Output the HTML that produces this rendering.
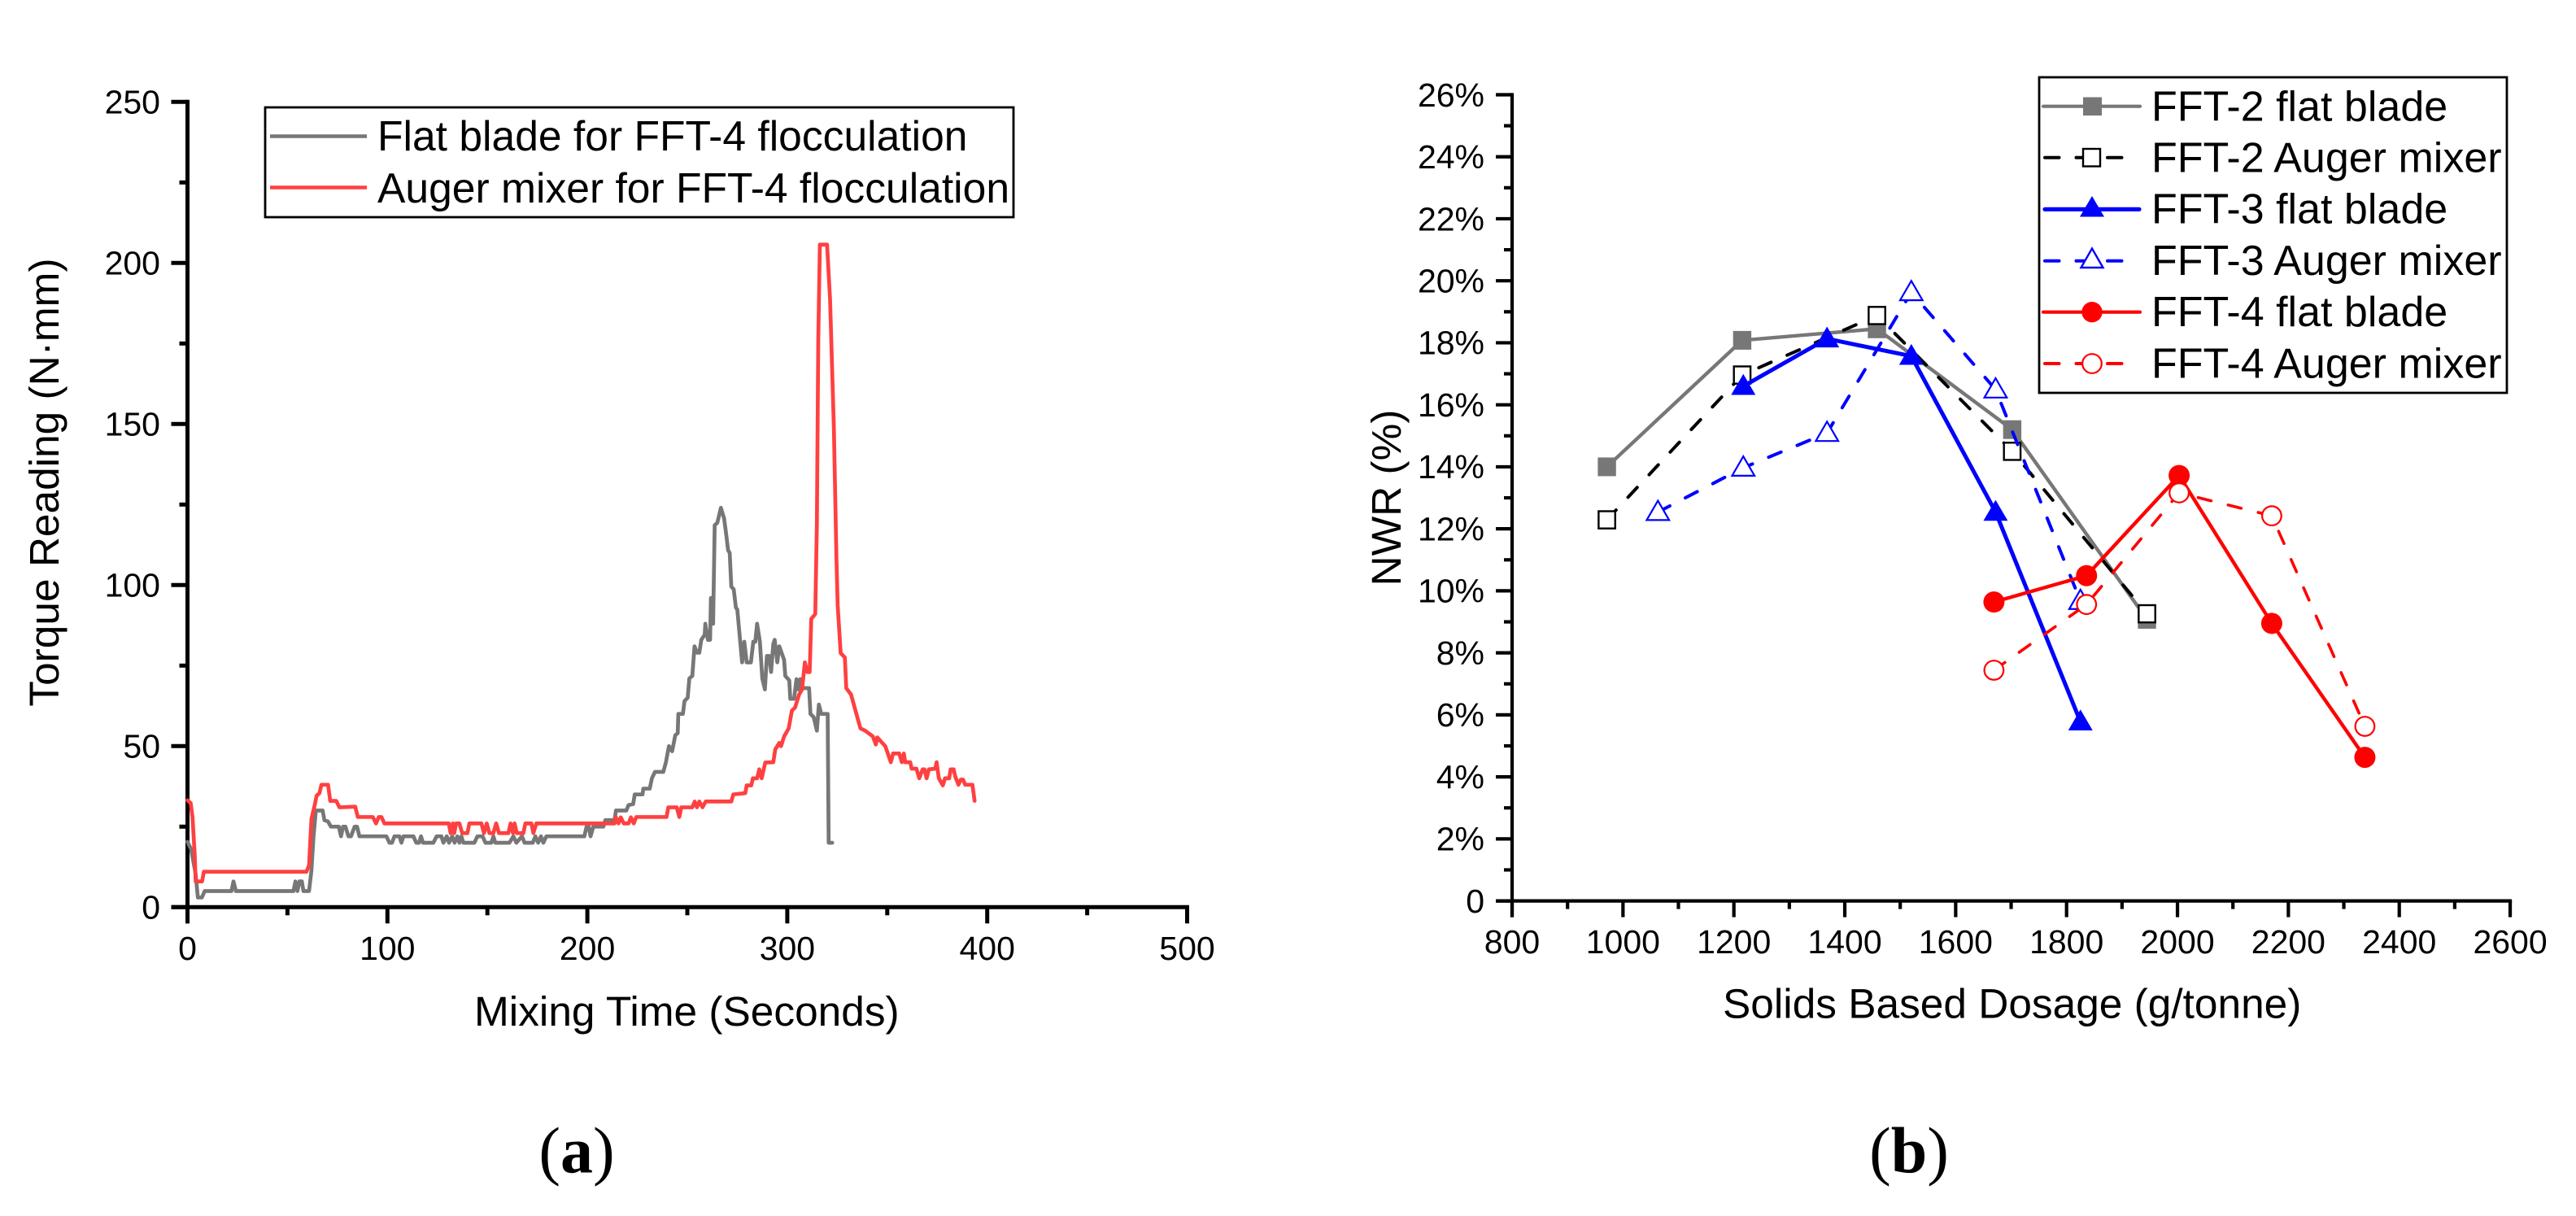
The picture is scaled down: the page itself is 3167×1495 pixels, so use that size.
<!DOCTYPE html>
<html lang="en">
<head>
<meta charset="utf-8">
<title>Torque reading and NWR charts</title>
<style>
html,body{margin:0;padding:0;background:#fff;}
svg{display:block;}
text{font-family:"Liberation Sans",Arial,sans-serif;fill:#000;}
.tick{font-size:41px;}
.title{font-size:51.4px;}
.leg{font-size:51.6px;}
.legb{font-size:52px;}
.panel{font-family:"Liberation Serif","Times New Roman",serif;font-size:80px;}
</style>
</head>
<body>
<svg id="figure" xmlns="http://www.w3.org/2000/svg" width="3167" height="1495" viewBox="0 0 3167 1495">
  <rect x="0" y="0" width="3167" height="1495" fill="#fff"/>
  <g id="chartA"></g>
  <g id="chartB"></g>

  <text class="title" x="583" y="1261">Mixing Time (Seconds)</text>
  <text class="title" transform="translate(72,593) rotate(-90)" text-anchor="middle">Torque Reading (N·mm)</text>
  <text class="title" x="2118" y="1251.5">Solids Based Dosage (g/tonne)</text>
  <text class="title" transform="translate(1722,612) rotate(-90)" text-anchor="middle">NWR (%)</text>

  <text class="panel" x="709" y="1441.5" text-anchor="middle">(<tspan font-weight="bold">a</tspan>)</text>
  <text class="panel" x="2347" y="1441.5" text-anchor="middle">(<tspan font-weight="bold">b</tspan>)</text>

  <g>
    <rect x="326" y="132" width="920" height="135" fill="#fff" stroke="#000" stroke-width="2.8"/>
    <line x1="332" x2="451" y1="167.5" y2="167.5" stroke="#777" stroke-width="4.4"/>
    <text class="leg" x="464" y="185">Flat blade for FFT-4 flocculation</text>
    <line x1="332" x2="451" y1="230.5" y2="230.5" stroke="#ff4040" stroke-width="4.4"/>
    <text class="leg" x="464" y="249">Auger mixer for FFT-4 flocculation</text>
  </g>

  <g id="legendB">
    <rect x="2507" y="95" width="575" height="388" fill="#fff" stroke="#000" stroke-width="2.8"/>
    <g>
      <line x1="2512" x2="2631" y1="130.7" y2="130.7" stroke="#777" stroke-width="4.2" stroke-linecap="round"/>
      <rect x="2561" y="119.5" width="23" height="22.5" fill="#777"/>
      <text class="legb" x="2645" y="148.5">FFT-2 flat blade</text>
    </g>
    <g>
      <line x1="2514" x2="2610" y1="193.7" y2="193.7" stroke="#000" stroke-width="4" stroke-linecap="round" stroke-dasharray="17.5 21"/>
      <rect x="2561" y="183" width="21" height="21.5" fill="#fff" stroke="#000" stroke-width="2.4"/>
      <text class="legb" x="2645" y="211.5">FFT-2 Auger mixer</text>
    </g>
    <g>
      <line x1="2514" x2="2630" y1="257.3" y2="257.3" stroke="#0000ff" stroke-width="5.2" stroke-linecap="round"/>
      <path d="M2572 241 L2587 266.5 L2557 266.5 Z" fill="#0000ff"/>
      <text class="legb" x="2645" y="274.7">FFT-3 flat blade</text>
    </g>
    <g>
      <line x1="2514" x2="2610" y1="320.7" y2="320.7" stroke="#0000ff" stroke-width="4" stroke-linecap="round" stroke-dasharray="17.5 21"/>
      <path d="M2572 305.5 L2585.5 329 L2558.5 329 Z" fill="#fff" stroke="#0000ff" stroke-width="2.4"/>
      <text class="legb" x="2645" y="338">FFT-3 Auger mixer</text>
    </g>
    <g>
      <line x1="2512" x2="2631" y1="383.7" y2="383.7" stroke="#ff0000" stroke-width="4.2" stroke-linecap="round"/>
      <circle cx="2572" cy="383.7" r="12.7" fill="#ff0000"/>
      <text class="legb" x="2645" y="401">FFT-4 flat blade</text>
    </g>
    <g>
      <line x1="2514" x2="2610" y1="447" y2="447" stroke="#ff0000" stroke-width="4" stroke-linecap="round" stroke-dasharray="17.5 21"/>
      <circle cx="2572" cy="447" r="11.8" fill="#fff" stroke="#ff0000" stroke-width="2.2"/>
      <text class="legb" x="2645" y="464.3">FFT-4 Auger mixer</text>
    </g>
  </g>
</svg>

<script>
// ---------- Chart (a): torque traces ----------
const timeTickLabels = ['0', '100', '200', '300', '400', '500'];
const timeMajorTicks = [0, 100, 200, 300, 400, 500];
const timeMinorTicks = [50, 150, 250, 350, 450];
const torqueTickLabels = ['0', '50', '100', '150', '200', '250'];
const torqueMajorTicks = [0, 50, 100, 150, 200, 250];
const torqueMinorTicks = [25, 75, 125, 175, 225];

const flatBladeTime = [0,1.8,4,5.2,7.2,8.6,22,23,24.2,53,54,55,56,57.2,58,60.8,62,63,64.2,67.6,68.5,70.3,71.7,75.7,76.8,77.8,79,80.5,81.8,83.6,84.8,86,99.5,101,102.3,103.5,106,107,108,113,114.4,115.8,116.8,117.8,123,124.6,127,128,129.7,130.8,132.4,133.6,135,136,137,138,143.5,145,147.6,149,152,153,154,161,163,164.5,167.3,168.6,172.7,174,175.4,176.8,178,179.5,198.5,199.6,200.7,201.6,203,208,209,213.6,214.3,219.5,220.6,222.9,223.7,227.6,228,231.2,232.3,233.8,238,239.3,240.8,242.4,244,245.2,245.5,247.8,248.6,250.2,251,252.5,253.6,254.8,256,257,258.7,259,260.3,261.4,261.8,262.9,263.7,265,266.8,268.4,269.6,270.4,271.2,272,273.2,274.3,275,277.4,278.5,279.7,281.8,283,284,284.9,286.3,287.5,288.8,289.8,291,291.9,293,293.7,295,296,298.4,299,301,301.5,303.4,304.6,305.4,306.5,307.4,310.9,311.6,313.2,314.8,315.8,317,320.2,320.7,322.5];
const flatBladeTorque = [20.3,18,10.6,3,3,5,5,8,5,5,8,5,8,8,5,5,11.4,21.5,30,30,27,26.6,25,25,22,25,25,22,22,25,25,22,22,20,20,22,22,20,22,22,20,20,22,20,20,22,22,20,22,20,22,20,22,20,22,20,20,22,22,20,20,22,20,20,22,20,22,20,20,22,20,22,20,22,22,25,25,22,25,25,27,27,30,30,31.7,32,35,35,36.8,36.8,40,42,42,45,50,48.4,53.4,54,60,60,64,65,71,71.8,81,79,79,83,84.6,88,83,83,96,88,118.6,119.3,124,120.7,115,110.8,110,99.5,98.7,93,92.4,76,82.4,76,76,82.4,82.4,88,82.4,71,67.6,78,78,73,81.7,83,76,81,76.8,71.8,70.4,64.7,64.7,70.8,67.6,70.8,68,68,60,59,54.8,62.9,60,60,20,20];
const augerMixerTime = [0,1.6,2.5,3.6,4.1,7.3,8.2,59.5,60.8,62,63.6,64.6,66,67,70.3,71.4,74.4,76,83.9,85.2,92.7,94.3,95.7,97,98.5,130.7,131.6,132.7,133.4,134.4,136,137.4,140,141,147,148.3,149.7,151,153,154.4,155.8,160.5,161.6,162.8,163.6,164.7,168,169,172,173,174.5,213.6,214.3,215.6,216.7,218.2,220.6,221.8,223.2,224.5,239.6,240.5,244.7,246,247,252.5,253.7,254.8,256,257.6,259.2,272,273,279,279.7,282,282.8,284.9,286,287.2,289,293,294,296,296.9,298.4,300.7,302.3,303.9,305.9,307.4,308.8,310,311.2,312,314,314.8,315.5,316.3,319.9,321.4,323.3,324.6,325.2,326.7,328.8,329.5,331.9,333.4,336.6,338.9,342.8,344.3,345,349,351.8,352.9,356,357.3,358.3,359,361.5,362.2,364.6,366,367.7,368.6,369.7,370.8,374,374.7,375.8,377.8,378.9,381,381.7,383.2,384,385.6,386.8,387.9,389,392.6,393.7];
const augerMixerTorque = [33.2,32.3,28,16.5,8,8,11,11,13,27.4,31.6,34.6,35.4,38,38,33,33,31,31.2,28,28,26,28,28,26,26,23,26,23,26,26,23,23,26,26,23,26,23,23,26,23,23,26,23,26,23,23,26,26,23,26,26,27.9,26,27.9,26,26,27.9,26,28,28,31,31,28,31,31,32.8,31,32.8,31,32.8,32.8,35,35.4,37.8,37.8,40,40,42.8,40,44.9,45,49,51,50,53,55.5,61,62,66,67.6,76,73,73,89.5,91,119,176,205.7,205.7,188.7,149,108,93.8,78.9,77.5,68,66,62.6,55.5,54.8,53,50.5,52.7,50,45,47.7,47.7,45,47.7,45,45,43,43,40,42.8,42.8,40,42.8,43,45,40,37.8,40,40,42.8,42.8,40.6,38,39.6,39.6,38,38,33];

// ---------- Chart (b): NWR vs dosage ----------
const dosageTickLabels = ['800', '1000', '1200', '1400', '1600', '1800', '2000', '2200', '2400', '2600'];
const dosageMajorTicks = [800, 1000, 1200, 1400, 1600, 1800, 2000, 2200, 2400, 2600];
const dosageMinorTicks = [900, 1100, 1300, 1500, 1700, 1900, 2100, 2300, 2500];
const nwrTickLabels = ['0', '2%', '4%', '6%', '8%', '10%', '12%', '14%', '16%', '18%', '20%', '22%', '24%', '26%'];
const nwrMajorTicks = [0, 2, 4, 6, 8, 10, 12, 14, 16, 18, 20, 22, 24, 26];
const nwrMinorTicks = [1, 3, 5, 7, 9, 11, 13, 15, 17, 19, 21, 23, 25];

const fft2FlatDosage = [971, 1215, 1458, 1702, 1945];
const fft2FlatNwr = [14.0, 18.08, 18.45, 15.2, 9.08];
const fft2AugerDosage = [971, 1215, 1458, 1702, 1945];
const fft2AugerNwr = [12.29, 16.96, 18.88, 14.5, 9.26];
const fft3FlatDosage = [1217, 1368, 1520, 1672, 1825];
const fft3FlatNwr = [16.6, 18.13, 17.57, 12.54, 5.78];
const fft3AugerDosage = [1063, 1217, 1368, 1520, 1672, 1825];
const fft3AugerNwr = [12.54, 13.97, 15.09, 19.63, 16.49, 9.67];
const fft4FlatDosage = [1669, 1836, 2003, 2170, 2338];
const fft4FlatNwr = [9.64, 10.49, 13.72, 8.95, 4.63];
const fft4AugerDosage = [1669, 1836, 2003, 2170, 2338];
const fft4AugerNwr = [7.44, 9.56, 13.16, 12.42, 5.63];

// ---------- Axis functions ----------
const timeScale = v => 230.5 + v * 2.458;
const torqueScale = v => 1115.3 - v * 3.96;
const dosageScale = v => 1859 + (v - 800) * 0.6817;
const nwrScale = v => 1107.6 - v * 38.12;

const NS = 'http://www.w3.org/2000/svg';
function add(parent, tag, attrs, name) {
  const el = document.createElementNS(NS, tag);
  for (const k in attrs) el.setAttribute(k, attrs[k]);
  
  
  parent.appendChild(el);
  return el;
}

function drawAxes(g, o) {
  const x0 = o.xs(o.xMajor[0]), x1 = o.xs(o.xMajor[o.xMajor.length - 1]);
  const y0 = o.ys(o.yMajor[0]), y1 = o.ys(o.yMajor[o.yMajor.length - 1]);
  const sw = o.width;
  add(g, 'line', {x1: x0 - o.major, x2: x1 + sw / 2, y1: y0, y2: y0, stroke: '#000', 'stroke-width': sw}, o.prefix + '-x-axis');
  add(g, 'line', {x1: x0, x2: x0, y1: y1 - sw / 2, y2: y0 + o.major, stroke: '#000', 'stroke-width': sw}, o.prefix + '-y-axis');
  o.xMajor.forEach((v, i) => {
    add(g, 'line', {x1: o.xs(v), x2: o.xs(v), y1: y0, y2: y0 + o.major, stroke: '#000', 'stroke-width': sw}, o.prefix + '-x-tick');
    const t = add(g, 'text', {x: o.xs(v), y: o.xBase, 'text-anchor': 'middle', class: 'tick'}, o.prefix + '-x-tick-label');
    t.textContent = o.xLabels[i];
  });
  o.xMinor.forEach(v => {
    add(g, 'line', {x1: o.xs(v), x2: o.xs(v), y1: y0, y2: y0 + o.minor, stroke: '#000', 'stroke-width': sw}, o.prefix + '-x-minor-tick');
  });
  o.yMajor.forEach((v, i) => {
    add(g, 'line', {x1: x0 - o.major, x2: x0, y1: o.ys(v), y2: o.ys(v), stroke: '#000', 'stroke-width': sw}, o.prefix + '-y-tick');
    const t = add(g, 'text', {x: o.yRight, y: o.ys(v) + 14.3, 'text-anchor': 'end', class: 'tick'}, o.prefix + '-y-tick-label');
    t.textContent = o.yLabels[i];
  });
  o.yMinor.forEach(v => {
    add(g, 'line', {x1: x0 - o.minor, x2: x0, y1: o.ys(v), y2: o.ys(v), stroke: '#000', 'stroke-width': sw}, o.prefix + '-y-minor-tick');
  });
}

function pointsOf(xsArr, ysArr, xs, ys) {
  return xsArr.map((v, i) => xs(v).toFixed(2) + ',' + ys(ysArr[i]).toFixed(2)).join(' ');
}

// ---------- Draw chart (a) ----------
const chartA = document.getElementById('chartA');
drawAxes(chartA, {prefix: 'torque', xs: timeScale, ys: torqueScale, xMajor: timeMajorTicks, xMinor: timeMinorTicks,
  yMajor: torqueMajorTicks, yMinor: torqueMinorTicks, xLabels: timeTickLabels, yLabels: torqueTickLabels,
  width: 5, major: 20, minor: 10, xBase: 1180, yRight: 197});
add(chartA, 'polyline', {points: pointsOf(flatBladeTime, flatBladeTorque, timeScale, torqueScale), fill: 'none', stroke: '#777', 'stroke-width': 4.7, 'stroke-linejoin': 'round', 'stroke-linecap': 'round'}, 'flat-blade-trace');
add(chartA, 'polyline', {points: pointsOf(augerMixerTime, augerMixerTorque, timeScale, torqueScale), fill: 'none', stroke: '#ff4040', 'stroke-width': 4.7, 'stroke-linejoin': 'round', 'stroke-linecap': 'round'}, 'auger-mixer-trace');

// ---------- Draw chart (b) ----------
const chartB = document.getElementById('chartB');
drawAxes(chartB, {prefix: 'nwr', xs: dosageScale, ys: nwrScale, xMajor: dosageMajorTicks, xMinor: dosageMinorTicks,
  yMajor: nwrMajorTicks, yMinor: nwrMinorTicks, xLabels: dosageTickLabels, yLabels: nwrTickLabels,
  width: 4.2, major: 20, minor: 10, xBase: 1172, yRight: 1825});

function marker(g, kind, cx, cy, color, name) {
  if (kind === 'square') {
    add(g, 'rect', {x: cx - 11.2, y: cy - 11.5, width: 22.4, height: 23, fill: color}, name);
  } else if (kind === 'hollow-square') {
    add(g, 'rect', {x: cx - 10.2, y: cy - 10.6, width: 20.4, height: 21.2, fill: '#fff', stroke: color, 'stroke-width': 2.4}, name);
  } else if (kind === 'triangle') {
    add(g, 'path', {d: 'M' + cx + ' ' + (cy - 15) + ' L' + (cx + 15) + ' ' + (cy + 10.7) + ' L' + (cx - 15) + ' ' + (cy + 10.7) + ' Z', fill: color}, name);
  } else if (kind === 'hollow-triangle') {
    add(g, 'path', {d: 'M' + cx + ' ' + (cy - 14) + ' L' + (cx + 13.8) + ' ' + (cy + 9.8) + ' L' + (cx - 13.8) + ' ' + (cy + 9.8) + ' Z', fill: '#fff', stroke: color, 'stroke-width': 2.2}, name);
  } else if (kind === 'circle') {
    add(g, 'circle', {cx: cx, cy: cy, r: 13, fill: color}, name);
  } else {
    add(g, 'circle', {cx: cx, cy: cy, r: 11.8, fill: '#fff', stroke: color, 'stroke-width': 2.2}, name);
  }
}

function series(name, dosage, nwr, color, kind, width, dashed) {
  const g = add(chartB, 'g', {}, name + '-series');
  const attrs = {points: pointsOf(dosage, nwr, dosageScale, nwrScale), fill: 'none', stroke: color, 'stroke-width': width, 'stroke-linejoin': 'round', 'stroke-linecap': 'round'};
  if (dashed) attrs['stroke-dasharray'] = '16.5 21.5';
  add(g, 'polyline', attrs, name + '-line');
  dosage.forEach((d, i) => {
    marker(g, kind, dosageScale(d), nwrScale(nwr[i]), color, name + '-point');
  });
}

series('fft2-flat-blade', fft2FlatDosage, fft2FlatNwr, '#777', 'square', 4.4, false);
series('fft2-auger-mixer', fft2AugerDosage, fft2AugerNwr, '#000', 'hollow-square', 4, true);
series('fft3-flat-blade', fft3FlatDosage, fft3FlatNwr, '#0000ff', 'triangle', 5, false);
series('fft3-auger-mixer', fft3AugerDosage, fft3AugerNwr, '#0000ff', 'hollow-triangle', 4, true);
series('fft4-flat-blade', fft4FlatDosage, fft4FlatNwr, '#ff0000', 'circle', 4.4, false);
series('fft4-auger-mixer', fft4AugerDosage, fft4AugerNwr, '#ff0000', 'hollow-circle', 3.6, true);
</script>
</body>
</html>
